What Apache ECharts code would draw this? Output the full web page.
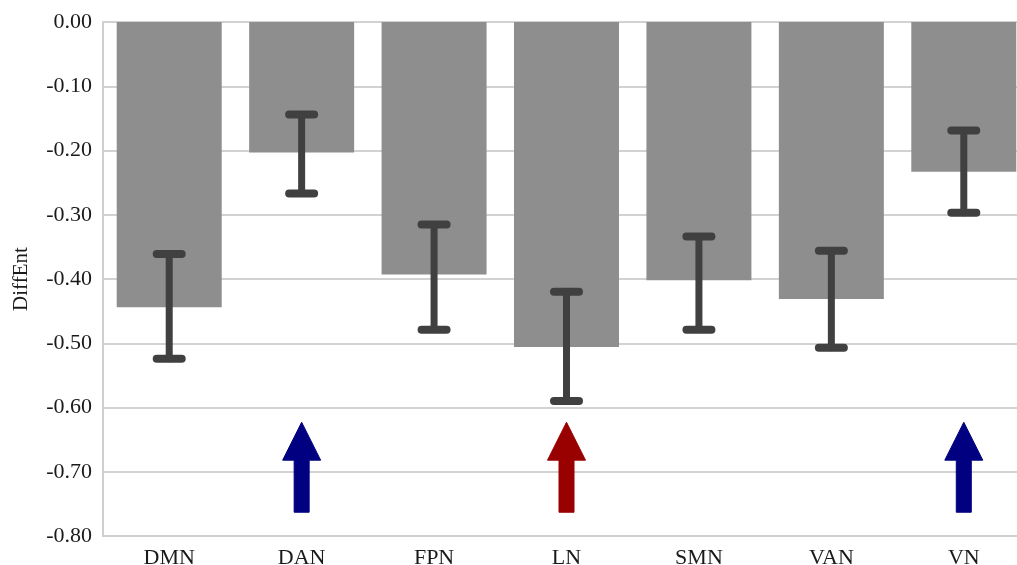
<!DOCTYPE html>
<html>
<head>
<meta charset="utf-8">
<script src="https://cdn.jsdelivr.net/npm/echarts@6/dist/echarts.min.js"></script>
<style>html,body{margin:0;padding:0;background:#fff;overflow:hidden;}#c{width:1017px;height:565px;}</style>
</head>
<body>
<div id="c"></div>
<script>
const categories = ['DMN','DAN','FPN','LN','SMN','VAN','VN'];
const meanValues = [-0.444,-0.203,-0.393,-0.506,-0.402,-0.431,-0.233];
const errUpper = [-0.361,-0.144,-0.315,-0.420,-0.334,-0.356,-0.169];
const errLower = [-0.524,-0.267,-0.479,-0.590,-0.479,-0.507,-0.297];
const arrowCats = ['DAN','LN','VN'];
const arrowColors = ['#000080','#990000','#000080'];
const arrowTip = -0.623;
const arrowHeadBase = -0.682;
const arrowTail = -0.763;
const yTicks = [0,-0.1,-0.2,-0.3,-0.4,-0.5,-0.6,-0.7,-0.8];

const errData = categories.map((c,i)=>[i, errLower[i], errUpper[i]]);
const arrowData = arrowCats.map((c,k)=>({value:[categories.indexOf(c), arrowTip, arrowHeadBase, arrowTail], color: arrowColors[k]}));

const chart = echarts.init(document.getElementById('c'));
const font = '"Liberation Serif","Times New Roman",serif';
chart.setOption({
  animation:false,
  backgroundColor:'#fff',
  grid:{left:103, right:-13, top:22, bottom:29, containLabel:false, outerBoundsMode:'none'},
  xAxis:{
    type:'category', data:categories,
    axisLine:{onZero:false, lineStyle:{color:'#cfcfcf', width:2}},
    axisTick:{show:false},
    axisLabel:{fontFamily:font, fontSize:22, color:'#1a1a1a', margin:11},
    splitLine:{show:false}
  },
  yAxis:{
    type:'value', min:-0.8, max:0, interval:0.1,
    name:'DiffEnt', nameLocation:'middle', nameGap:71,
    nameTextStyle:{fontFamily:font, fontSize:21, color:'#1a1a1a'},
    axisLine:{show:true, lineStyle:{color:'#cfcfcf', width:2}},
    axisTick:{show:false},
    axisLabel:{fontFamily:font, fontSize:22, color:'#1a1a1a', margin:11, formatter:v=>v.toFixed(2)},
    splitLine:{show:true, lineStyle:{color:'#d2d2d2', width:2}}
  },
  series:[
    {type:'bar', data:meanValues, barWidth:105, itemStyle:{color:'#8e8e8e'}, z:2},
    {type:'custom', data:errData, z:5,
     renderItem:(params, api)=>{
       const x = api.value(0);
       const lo = api.coord([x, api.value(1)]);
       const hi = api.coord([x, api.value(2)]);
       const hw = 12.5;
       const st = {stroke:'#404040', lineWidth:7, lineCap:'round'};
       return {type:'group', children:[
         {type:'line', shape:{x1:lo[0], y1:lo[1], x2:hi[0], y2:hi[1]}, style:st},
         {type:'line', shape:{x1:lo[0]-hw, y1:lo[1], x2:lo[0]+hw, y2:lo[1]}, style:{...st, lineWidth:8}},
         {type:'line', shape:{x1:hi[0]-hw, y1:hi[1], x2:hi[0]+hw, y2:hi[1]}, style:{...st, lineWidth:8}}
       ]};
     }},
    {type:'custom', data:arrowData, z:6,
     renderItem:(params, api)=>{
       const x = api.value(0);
       const tip = api.coord([x, api.value(1)]);
       const hb = api.coord([x, api.value(2)]);
       const tail = api.coord([x, api.value(3)]);
       const cx = tip[0];
       const hw = 19, sw = 7.5;
       const color = arrowData[params.dataIndex].color;
       return {type:'polygon', shape:{points:[
         [cx, tip[1]], [cx+hw, hb[1]], [cx+sw, hb[1]], [cx+sw, tail[1]],
         [cx-sw, tail[1]], [cx-sw, hb[1]], [cx-hw, hb[1]]
       ]}, style:{fill:color, stroke:color, lineWidth:1, lineJoin:'round'}};
     }}
  ]
});
</script>
</body>
</html>
